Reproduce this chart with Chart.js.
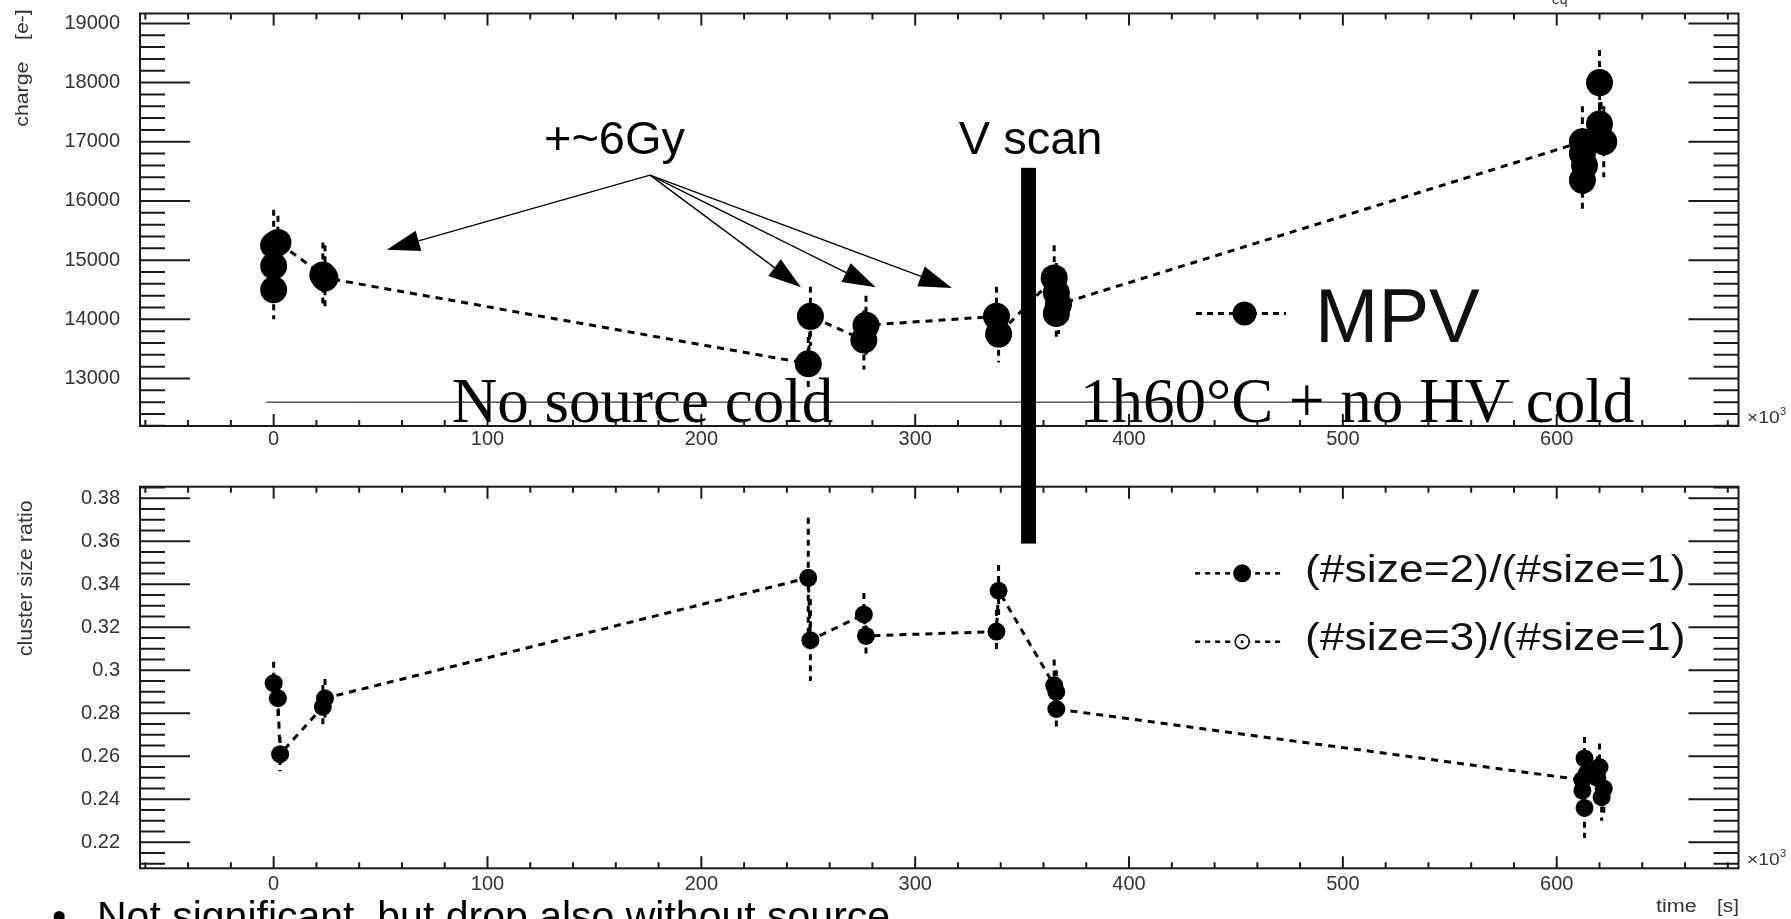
<!DOCTYPE html>
<html>
<head>
<meta charset="utf-8">
<title>MPV and cluster size ratio vs time</title>
<script src="https://cdn.jsdelivr.net/npm/chart.js@4.4.1/dist/chart.umd.min.js"></script>
<style>
  html, body { margin: 0; padding: 0; background: #fff; }
  body { width: 1791px; height: 919px; position: relative; overflow: hidden; }
  canvas { position: absolute; left: 0; top: 0; }
  #topChart { z-index: 2; }
  #bottomChart { z-index: 1; }
</style>
</head>
<body>
<canvas id="bottomChart" width="1791" height="919"></canvas>
<canvas id="topChart" width="1791" height="919"></canvas>
<script>
// time is in units of 10^3 s
const mpvTime   = [0, 0, 0, 2, 23, 24, 250, 251, 276, 277, 338, 339, 365, 366, 366, 367, 612, 612, 613, 612, 620, 622, 620];
const mpvCharge = [14500, 14900, 15250, 15300, 14750, 14700, 13250, 14050, 13650, 13900, 14050, 13750,
                   14700, 14450, 14100, 14250, 17000, 16800, 16600, 16350, 17300, 17000, 18000];
const mpvError  = [500, 500, 600, 450, 550, 550, 450, 500, 500, 500, 500, 480,
                   550, 500, 450, 500, 600, 600, 550, 550, 550, 600, 550];

const ratioTime  = [0, 2, 3, 23, 24, 250, 251, 276, 277, 338, 339, 365, 366, 366,
                    612, 613, 612, 613, 614, 620, 619, 622, 621];
const ratioValue = [0.294, 0.287, 0.261, 0.283, 0.287, 0.343, 0.314, 0.326, 0.316, 0.318, 0.337, 0.293, 0.290, 0.282,
                    0.249, 0.259, 0.244, 0.236, 0.252, 0.255, 0.250, 0.245, 0.241];
const ratioError = [0.010, 0.010, 0.008, 0.010, 0.009, 0.028, 0.019, 0.010, 0.010, 0.010, 0.012, 0.012, 0.010, 0.010,
                    0.010, 0.010, 0.010, 0.014, 0.010, 0.011, 0.010, 0.012, 0.011];

const timeTicks   = [0, 100, 200, 300, 400, 500, 600];
const chargeTicks = [13000, 14000, 15000, 16000, 17000, 18000, 19000];
const ratioTicks  = [0.22, 0.24, 0.26, 0.28, 0.30, 0.32, 0.34, 0.36, 0.38];
const ratioTickLabels = ['0.22', '0.24', '0.26', '0.28', '0.3', '0.32', '0.34', '0.36', '0.38'];
const ratioLegend = ['(#size=2)/(#size=1)', '(#size=3)/(#size=1)'];

const tickFont = { family: '"Liberation Sans", Arial, sans-serif', size: 20 };
const SANS = '"Liberation Sans", Arial, sans-serif';
const SERIF = '"Liberation Serif", "Times New Roman", serif';

// ---------- helpers ----------
function minorValues(scale, step) {
  const out = [];
  let v = Math.ceil(scale.min / step - 1e-9) * step;
  for (; v <= scale.max + 1e-9; v += step) out.push(+v.toFixed(6));
  return out;
}
function isMajor(v, majors) {
  return majors.some(m => Math.abs(m - v) < 1e-6) || (majors === timeTicks && Math.abs(v % 100) < 1e-6);
}
// keep Chart.js from adding room for half labels at the axis ends
function fixBox(size) {
  return s => {
    if (s.isHorizontal()) s.height = size; else s.width = size;
    s.paddingTop = 0; s.paddingBottom = 0; s.paddingLeft = 0; s.paddingRight = 0;
  };
}

// ROOT style frame with inside ticks on all four sides
function drawFrame(chart, xStep, yStep, yMajors) {
  const { ctx, chartArea: a } = chart;
  const xs = chart.scales.x, ys = chart.scales.y;
  ctx.save();
  ctx.strokeStyle = '#1a1a1a';
  ctx.lineWidth = 2;
  ctx.beginPath();
  minorValues(xs, xStep).forEach(v => {
    const px = xs.getPixelForValue(v);
    const len = isMajor(v, timeTicks) ? 12 : 6;
    ctx.moveTo(px, a.bottom); ctx.lineTo(px, a.bottom - len);
    ctx.moveTo(px, a.top); ctx.lineTo(px, a.top + len);
  });
  minorValues(ys, yStep).forEach(v => {
    const py = ys.getPixelForValue(v);
    const len = isMajor(v, yMajors) ? 50 : 25;
    ctx.moveTo(a.left, py); ctx.lineTo(a.left + len, py);
    ctx.moveTo(a.right, py); ctx.lineTo(a.right - len, py);
  });
  ctx.stroke();
  ctx.strokeRect(a.left, a.top, a.right - a.left, a.bottom - a.top);
  ctx.restore();
}

function drawErrorBars(chart, times, values, errors) {
  const { ctx } = chart;
  const xs = chart.scales.x, ys = chart.scales.y;
  ctx.save();
  ctx.strokeStyle = '#000';
  ctx.lineWidth = 3;
  ctx.setLineDash([6, 5]);
  ctx.beginPath();
  times.forEach((t, i) => {
    const px = xs.getPixelForValue(t);
    ctx.moveTo(px, ys.getPixelForValue(values[i] + errors[i]));
    ctx.lineTo(px, ys.getPixelForValue(values[i] - errors[i]));
  });
  ctx.stroke();
  ctx.restore();
}

// text with a horizontal stretch (ROOT output is slightly wide)
function text(ctx, str, x, y, font, opts = {}) {
  ctx.save();
  ctx.font = font;
  ctx.fillStyle = opts.color || '#000';
  ctx.textBaseline = 'alphabetic';
  const sx = opts.sx || 1;
  const w = ctx.measureText(str).width * sx;
  ctx.translate(x, y);
  if (opts.rotate) ctx.rotate(opts.rotate);
  if (opts.align === 'right') ctx.translate(-w, 0);
  if (opts.align === 'center') ctx.translate(-w / 2, 0);
  ctx.scale(sx, 1);
  ctx.fillText(str, 0, 0);
  ctx.restore();
}

function arrow(ctx, x0, y0, x1, y1) {
  const ang = Math.atan2(y1 - y0, x1 - x0);
  const L = 33, W = 10.5;
  const bx = x1 - L * Math.cos(ang), by = y1 - L * Math.sin(ang);
  ctx.beginPath();
  ctx.moveTo(x0, y0); ctx.lineTo(bx, by);
  ctx.stroke();
  ctx.beginPath();
  ctx.moveTo(x1, y1);
  ctx.lineTo(bx - W * Math.sin(ang), by + W * Math.cos(ang));
  ctx.lineTo(bx + W * Math.sin(ang), by - W * Math.cos(ang));
  ctx.closePath();
  ctx.fill();
}

function timeFactor(ctx, x, y) {
  text(ctx, '\u00d710', x, y, '16px ' + SANS, { sx: 1.2, color: '#333' });
  text(ctx, '3', x + 33, y - 8, '11px ' + SANS, { color: '#333' });
}

// ---------- bottom panel: cluster size ratio ----------
const bottomPlugin = {
  id: 'bottomFrame',
  beforeDatasetsDraw(chart) {
    drawFrame(chart, 20, 0.005, ratioTicks);
    drawErrorBars(chart, ratioTime, ratioValue, ratioError);
  },
  afterDraw(chart) {
    const { ctx } = chart;
    const X = v => chart.scales.x.getPixelForValue(v);
    const Y = v => chart.scales.y.getPixelForValue(v);

    text(ctx, 'cluster size ratio', 32, Y(0.2079) - 212, '20px ' + SANS,
      { rotate: -Math.PI / 2, sx: 1.08, color: '#333' });
    text(ctx, 'time', X(646.4), Y(0.1876), '18px ' + SANS, { sx: 1.2, color: '#333' });
    text(ctx, '[s]', X(685.2), Y(0.1876), '18px ' + SANS, { sx: 1.15, color: '#333', align: 'right' });
    timeFactor(ctx, X(689), Y(0.2094));

    // legend
    const rows = [0.3451, 0.3133];
    ctx.save();
    ctx.strokeStyle = '#000';
    ctx.fillStyle = '#000';
    rows.forEach((r, i) => {
      ctx.lineWidth = 2.5;
      ctx.setLineDash([5, 5]);
      ctx.beginPath();
      ctx.moveTo(X(430.9), Y(r)); ctx.lineTo(X(473.0), Y(r));
      ctx.stroke();
      ctx.setLineDash([]);
      if (i === 0) {
        ctx.beginPath(); ctx.arc(X(452.9), Y(r), 9, 0, 2 * Math.PI); ctx.fill();
      } else {
        ctx.fillStyle = '#fff';
        ctx.lineWidth = 1.5;
        ctx.beginPath(); ctx.arc(X(452.9), Y(r), 7, 0, 2 * Math.PI); ctx.fill(); ctx.stroke();
        ctx.fillStyle = '#000';
        ctx.beginPath(); ctx.arc(X(452.9), Y(r), 1.6, 0, 2 * Math.PI); ctx.fill();
      }
      text(ctx, ratioLegend[i], X(482.3), Y(r) + 8.5, '39px ' + SANS, { sx: 1.14, color: '#111' });
    });
    ctx.restore();

    // slide text under the plots
    text(ctx, '\u2022', 52, 930, '41px ' + SANS);
    text(ctx, 'Not significant, but drop also without source', 97, 930, '41px ' + SANS);
  }
};

const ratioPoints = ratioTime.map((t, i) => ({ x: t, y: ratioValue[i] }));

const bottomChart = new Chart(document.getElementById('bottomChart'), {
  type: 'scatter',
  data: {
    datasets: [{
      label: ratioLegend[0],
      data: ratioPoints,
      showLine: true,
      borderColor: '#000',
      borderWidth: 3,
      borderDash: [7, 6],
      pointRadius: 9,
      pointHoverRadius: 9,
      pointBackgroundColor: '#000',
      pointBorderWidth: 0
    }]
  },
  options: {
    responsive: false,
    animation: false,
    events: [],
    layout: { padding: { left: 0, top: 486.7, right: 52.5, bottom: 0 } },
    plugins: { legend: { display: false }, tooltip: { enabled: false } },
    scales: {
      x: {
        type: 'linear', min: -62.5, max: 685,
        grid: { display: false }, border: { display: false },
        afterBuildTicks: s => { s.ticks = timeTicks.map(v => ({ value: v })); },
        afterFit: fixBox(919 - 868.3),
        ticks: { font: tickFont, color: '#333', padding: -4, maxRotation: 0, autoSkip: false,
                 callback: v => String(v) }
      },
      y: {
        type: 'linear', min: 0.2079, max: 0.3854,
        grid: { display: false }, border: { display: false },
        afterBuildTicks: s => { s.ticks = ratioTicks.map(v => ({ value: v })); },
        afterFit: fixBox(140),
        ticks: { font: tickFont, color: '#333', padding: 12, autoSkip: false,
                 callback: (v, i) => ratioTickLabels[i] }
      }
    }
  },
  plugins: [bottomPlugin]
});

// ---------- top panel: MPV charge ----------
const topPlugin = {
  id: 'topFrame',
  beforeDatasetsDraw(chart) {
    drawFrame(chart, 20, 200, chargeTicks);
    drawErrorBars(chart, mpvTime, mpvCharge, mpvError);
  },
  afterDraw(chart) {
    const { ctx } = chart;
    const X = v => chart.scales.x.getPixelForValue(v);
    const Y = v => chart.scales.y.getPixelForValue(v);

    text(ctx, 'charge', 28, Y(12197) - 299.3, '19px ' + SANS,
      { rotate: -Math.PI / 2, sx: 1.12, color: '#333' });
    text(ctx, '[e-]', 28, Y(12197) - 386, '19px ' + SANS,
      { rotate: -Math.PI / 2, sx: 1.12, color: '#333' });
    timeFactor(ctx, X(689), Y(12247));
    text(ctx, 'eq', X(597.8), Y(19331), '14px ' + SANS, { color: '#333' });

    // legend
    ctx.save();
    ctx.strokeStyle = '#000';
    ctx.fillStyle = '#000';
    ctx.lineWidth = 3;
    ctx.setLineDash([6, 5]);
    ctx.beginPath();
    ctx.moveTo(X(431.3), Y(14098)); ctx.lineTo(X(473.4), Y(14098));
    ctx.stroke();
    ctx.setLineDash([]);
    ctx.beginPath(); ctx.arc(X(454), Y(14098), 12, 0, 2 * Math.PI); ctx.fill();
    ctx.restore();
    text(ctx, 'MPV', X(487), Y(13616), '76px ' + SANS, { color: '#111' });

    // annotations
    ctx.save();
    ctx.strokeStyle = '#000';
    ctx.fillStyle = '#000';
    ctx.lineWidth = 1.3;
    const ox = X(176), oy = Y(16437);
    [[52.9, 15175], [246.6, 14541], [281.5, 14541], [317.2, 14531]]
      .forEach(([tx, ty]) => arrow(ctx, ox, oy, X(tx), Y(ty)));

    ctx.lineWidth = 1;
    ctx.beginPath();
    ctx.moveTo(X(-3.5), Y(12600)); ctx.lineTo(X(579.5), Y(12600));
    ctx.stroke();

    ctx.fillRect(X(349.5), Y(16560), X(356.5) - X(349.5), Y(10210) - Y(16560));
    ctx.restore();

    text(ctx, '+~6Gy', X(159.4), Y(16796), '47px ' + SANS, { align: 'center' });
    text(ctx, 'V scan', X(354), Y(16796), '47px ' + SANS, { align: 'center' });
    text(ctx, 'No source cold', X(83.3), Y(12264), '63px ' + SERIF);
    text(ctx, '1h60\u00b0C + no HV cold', X(377.1), Y(12264), '63px ' + SERIF);
  }
};

const mpvPoints = mpvTime.map((t, i) => ({ x: t, y: mpvCharge[i] }));

const topChart = new Chart(document.getElementById('topChart'), {
  type: 'scatter',
  data: {
    datasets: [{
      label: 'MPV',
      data: mpvPoints,
      showLine: true,
      borderColor: '#000',
      borderWidth: 3,
      borderDash: [7, 6],
      pointRadius: 13.5,
      pointHoverRadius: 13.5,
      pointBackgroundColor: '#000',
      pointBorderWidth: 0
    }]
  },
  options: {
    responsive: false,
    animation: false,
    events: [],
    layout: { padding: { left: 0, top: 11.7, right: 52.5, bottom: 0 } },
    plugins: { legend: { display: false }, tooltip: { enabled: false } },
    scales: {
      x: {
        type: 'linear', min: -62.5, max: 685,
        grid: { display: false }, border: { display: false },
        afterBuildTicks: s => { s.ticks = timeTicks.map(v => ({ value: v })); },
        afterFit: fixBox(919 - 426),
        ticks: { font: tickFont, color: '#333', padding: -7, maxRotation: 0, autoSkip: false,
                 callback: v => String(v) }
      },
      y: {
        type: 'linear', min: 12197, max: 19168,
        grid: { display: false }, border: { display: false },
        afterBuildTicks: s => { s.ticks = chargeTicks.map(v => ({ value: v })); },
        afterFit: fixBox(140),
        ticks: { font: tickFont, color: '#333', padding: 12, autoSkip: false,
                 callback: v => String(v) }
      }
    }
  },
  plugins: [topPlugin]
});
</script>
</body>
</html>
